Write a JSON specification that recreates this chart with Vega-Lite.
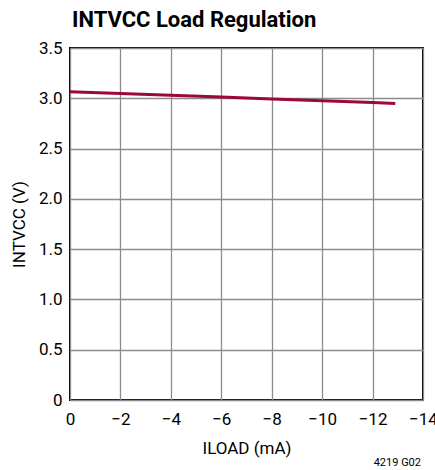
{
  "$schema": "https://vega.github.io/schema/vega-lite/v6.json",
  "autosize": "none",
  "width": 353,
  "height": 352,
  "padding": {"left": 70, "top": 48, "right": 12, "bottom": 70},
  "background": "white",
  "config": {
    "font": "Roboto",
    "view": {"stroke": "black", "strokeWidth": 2}
  },
  "title": {
    "text": "INTVCC Load Regulation",
    "anchor": "start",
    "frame": "group",
    "fontSize": 22,
    "fontWeight": "bold",
    "font": "Roboto",
    "color": "black",
    "offset": 7,
    "dx": 2
  },
  "datasets": {
    "curve": [
      {"iload": 0, "v": 3.065},
      {"iload": -2, "v": 3.048},
      {"iload": -4, "v": 3.03},
      {"iload": -6, "v": 3.012},
      {"iload": -8, "v": 2.993},
      {"iload": -10, "v": 2.975},
      {"iload": -12, "v": 2.957},
      {"iload": -12.9, "v": 2.948}
    ],
    "note": [{"label": "4219 G02"}]
  },
  "layer": [
    {
      "data": {"name": "curve"},
      "mark": {"type": "line", "color": "#9b0a35", "strokeWidth": 3},
      "encoding": {
        "x": {
          "field": "iload",
          "type": "quantitative",
          "scale": {"domain": [-14, 0], "reverse": true, "nice": false, "zero": false},
          "axis": {
            "values": [0, -2, -4, -6, -8, -10, -12, -14],
            "title": "ILOAD (mA)",
            "titleFontSize": 17,
            "titleFontWeight": "normal",
            "titleColor": "black",
            "titlePadding": 13,
            "labelFontSize": 17,
            "labelColor": "black",
            "labelPadding": 11,
            "ticks": false,
            "domain": false,
            "gridColor": "#8c8c8c",
            "gridWidth": 1.3,
            "gridOpacity": 1,
            "labelFlush": false
          }
        },
        "y": {
          "field": "v",
          "type": "quantitative",
          "scale": {"domain": [0, 3.5], "nice": false},
          "axis": {
            "values": [0, 0.5, 1, 1.5, 2, 2.5, 3, 3.5],
            "labelExpr": "datum.value == 0 ? '0' : format(datum.value, '.1f')",
            "title": "INTVCC (V)",
            "titleFontSize": 17,
            "titleFontWeight": "normal",
            "titleColor": "black",
            "titlePadding": 10,
            "labelFontSize": 17,
            "labelColor": "black",
            "labelPadding": 8,
            "ticks": false,
            "domain": false,
            "gridColor": "#8c8c8c",
            "gridWidth": 1.3,
            "gridOpacity": 1
          }
        }
      }
    },
    {
      "data": {"name": "note"},
      "mark": {"type": "text", "align": "right", "baseline": "bottom", "fontSize": 11, "color": "black", "dy": 68, "dx": -2},
      "encoding": {
        "x": {"datum": -14, "type": "quantitative"},
        "y": {"datum": 0, "type": "quantitative"},
        "text": {"field": "label"}
      }
    }
  ]
}
